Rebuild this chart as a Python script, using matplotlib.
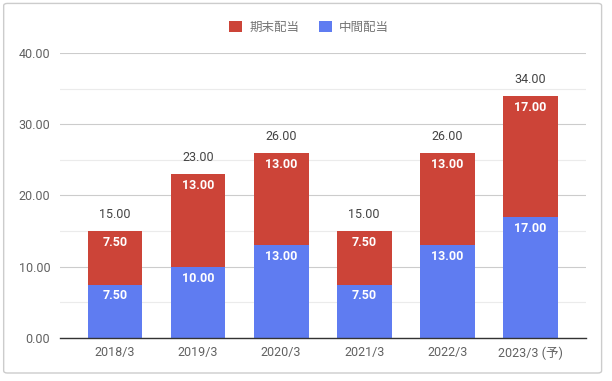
import matplotlib.pyplot as plt
from matplotlib.patches import FancyBboxPatch
from matplotlib.ticker import MultipleLocator

years = ['2018/3', '2019/3', '2020/3', '2021/3', '2022/3', '2023/3 (予)']
interim = [7.50, 10.00, 13.00, 7.50, 13.00, 17.00]
year_end = [7.50, 13.00, 13.00, 7.50, 13.00, 17.00]
totals = [a + b for a, b in zip(interim, year_end)]

blue = '#5f7cf1'
red = '#cc4438'

plt.rcParams['font.family'] = ['Roboto', 'Noto Sans CJK JP', 'DejaVu Sans']

fig = plt.figure(figsize=(6.12, 3.81), dpi=100)
ax = fig.add_axes([0.098, 0.113, 0.86, 0.748])

x = list(range(len(years)))
w = 0.66
ax.bar(x, interim, width=w, color=blue, label='中間配当', zorder=3)
ax.bar(x, year_end, width=w, bottom=interim, color=red, label='期末配当', zorder=3)

for i in x:
    ax.annotate(f'{interim[i]:.2f}', (i, interim[i]), xytext=(0, -3.5), textcoords='offset points',
                ha='center', va='top', color='white', fontsize=9, fontweight='bold', zorder=4)
    ax.annotate(f'{year_end[i]:.2f}', (i, totals[i]), xytext=(0, -3.5), textcoords='offset points',
                ha='center', va='top', color='white', fontsize=9, fontweight='bold', zorder=4)
    ax.annotate(f'{totals[i]:.2f}', (i, totals[i]), xytext=(0, 7), textcoords='offset points',
                ha='center', va='bottom', color='#444444', fontsize=9, zorder=4)

ax.set_xlim(-0.663, 5.675)
ax.set_ylim(0, 40)
ax.set_xticks(x)
ax.set_xticklabels(years)
ax.yaxis.set_major_locator(MultipleLocator(10))
ax.yaxis.set_minor_locator(MultipleLocator(5))
ax.yaxis.set_major_formatter(lambda v, p: f'{v:.2f}')
ax.grid(axis='y', which='major', color='#cccccc', linewidth=0.8, zorder=0)
ax.grid(axis='y', which='minor', color='#ebebeb', linewidth=0.8, zorder=0)
ax.tick_params(axis='both', which='both', length=0, labelsize=9, colors='#616161')
ax.tick_params(axis='x', pad=6)
ax.tick_params(axis='y', pad=7)
for s in ['top', 'right', 'left']:
    ax.spines[s].set_visible(False)
ax.spines['bottom'].set_color('#333333')
ax.spines['bottom'].set_linewidth(1)
ax.spines['bottom'].set_zorder(5)

handles, labels = ax.get_legend_handles_labels()
leg = fig.legend(handles[::-1], labels[::-1], loc='center', bbox_to_anchor=(0.505, 0.928), ncol=2,
                 frameon=False, handlelength=1.0, handleheight=1.0,
                 handletextpad=0.6, columnspacing=1.6, prop={'family': ['Noto Sans CJK JP'], 'size': 9})
for t in leg.get_texts():
    t.set_color('#757575')

border = FancyBboxPatch((0.006, 0.021), 0.977, 0.97, boxstyle='round,pad=0,rounding_size=0.006',
                        transform=fig.transFigure, fill=False, edgecolor='#cccccc', linewidth=1)
fig.patches.append(border)

fig.savefig('out.png', dpi=100)
